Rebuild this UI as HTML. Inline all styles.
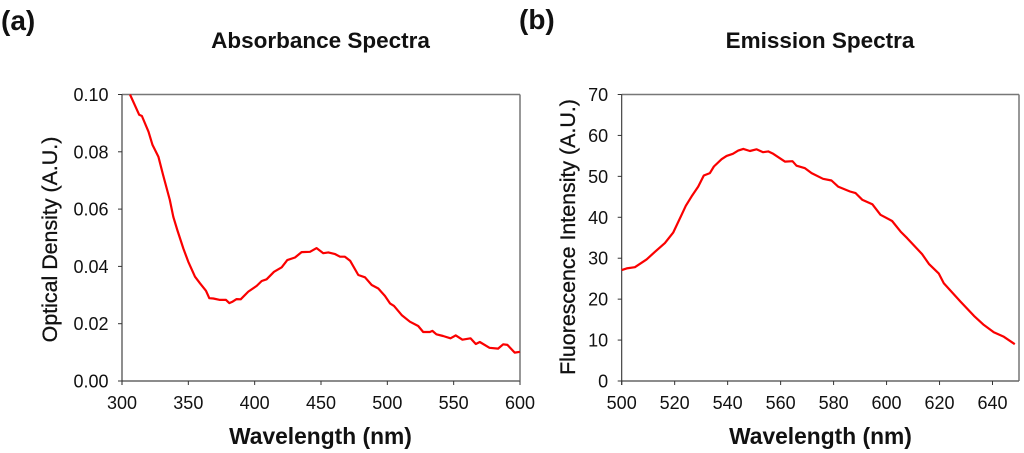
<!DOCTYPE html>
<html>
<head>
<meta charset="utf-8">
<style>
html,body{margin:0;padding:0;background:#fff;}
svg{display:block;font-family:"Liberation Sans",Arial,sans-serif;filter:blur(0.35px);}
text{fill:#111;}
.tick{font-size:18px;}
.axt{font-size:22.8px;font-weight:bold;}
.ayt{font-size:21.4px;}
.tt{font-size:22.5px;font-weight:bold;}
.pl{font-size:28px;font-weight:bold;}
</style>
</head>
<body>
<svg id="fig" width="1024" height="453" viewBox="0 0 1024 453" xmlns="http://www.w3.org/2000/svg">
  <text class="pl" x="1" y="30">(a)</text>
  <text class="pl" x="519" y="29">(b)</text>
  <text class="tt" x="320.5" y="48" text-anchor="middle">Absorbance Spectra</text>
  <text class="tt" x="820" y="48" text-anchor="middle">Emission Spectra</text>
  <text class="axt" x="320.5" y="444" text-anchor="middle">Wavelength (nm)</text>
  <text class="axt" x="820.5" y="444" text-anchor="middle">Wavelength (nm)</text>
  <text class="ayt" transform="translate(57 239.5) rotate(-90)" text-anchor="middle" style="stroke:#111;stroke-width:.3px">Optical Density (A.U.)</text>
  <text class="ayt" transform="translate(575 237) rotate(-90)" text-anchor="middle" style="stroke:#111;stroke-width:.3px">Fluorescence Intensity (A.U.)</text>
</svg>
<script>
var absWavelengths = [306,313,315,320,323,327.4,331,336,338.7,341.7,346.2,350,355,358.8,363.3,365.8,368.8,373.9,378.4,380.9,383,386.4,389.5,395.2,401.5,405.3,409,414.6,420.4,424.6,430.4,435.4,441.7,446.7,451.7,455.5,460.6,464.3,468,471.9,478.1,483.2,488.2,493.2,498.2,502,505,510.8,517,523.3,527,532,534,537,542,547.6,551.6,556.6,562.7,566.7,569.7,577,583.5,587.3,590.5,596,600];
var absValues = [0.1,0.0929,0.0925,0.087,0.0824,0.0783,0.0719,0.0632,0.0573,0.0527,0.0463,0.0416,0.0364,0.0341,0.0315,0.0289,0.0288,0.0283,0.0283,0.0272,0.0276,0.0286,0.0285,0.0312,0.0332,0.0349,0.0355,0.0381,0.0397,0.0422,0.0431,0.045,0.0451,0.0464,0.0446,0.0449,0.0443,0.0434,0.0434,0.042,0.037,0.0362,0.0335,0.0323,0.0297,0.0271,0.0262,0.023,0.0207,0.0192,0.0171,0.0171,0.0175,0.0163,0.0157,0.0149,0.0159,0.0144,0.0149,0.0129,0.0136,0.0116,0.0113,0.0128,0.0126,0.0099,0.0102];
var absXTicks = [300,350,400,450,500,550,600];
var absYTicks = ["0.00","0.02","0.04","0.06","0.08","0.10"];

var emWavelengths = [500,501.9,505,509.4,512.6,516.3,519.5,522.6,524.2,526.4,528.9,531,533.3,534.8,537.7,539.6,542,544,545.9,548.4,550.9,553.4,555.3,557.2,561.6,564.5,566,569.2,571.7,576,579.2,581.7,586.2,588.3,590.8,594.6,597.7,602.1,605.3,607.8,613.4,616,619.7,621.6,627.9,633,636.7,640.5,644.3,648.4];
var emValues = [27.1,27.5,27.8,29.7,31.6,33.7,36.3,40.6,42.8,45.1,47.5,50.2,50.8,52.4,54.2,55,55.5,56.3,56.7,56.2,56.6,55.9,56.1,55.5,53.6,53.7,52.6,52,50.8,49.4,49,47.5,46.3,45.9,44.3,43.2,40.6,39.1,36.5,34.9,31,28.6,26.3,23.9,19.4,15.9,13.7,11.9,10.8,9];
var emXTicks = [500,520,540,560,580,600,620,640];
var emYTicks = ["0","10","20","30","40","50","60","70"];

var NS = "http://www.w3.org/2000/svg";
var fig = document.getElementById("fig");

function shape(tag, attrs, parent) {
  var el = document.createElementNS(NS, tag);
  for (var k in attrs) { el.setAttribute(k, attrs[k]); }
  (parent || fig).appendChild(el);
  return el;
}

function drawChart(c) {
  var sx = function (v) { return c.left + (v - c.xMin) / (c.xMax - c.xMin) * (c.right - c.left); };
  var sy = function (v) { return c.bottom - (v - c.yMin) / (c.yMax - c.yMin) * (c.bottom - c.top); };

  var g = shape("g", {});
  
  

  var topLine = shape("line", {x1: c.left, y1: c.top, x2: c.right, y2: c.top, stroke: "#777", "stroke-width": 1.5}, g);
  
  
  var rightLine = shape("line", {x1: c.right, y1: c.top, x2: c.right, y2: c.bottom, stroke: "#777", "stroke-width": 1.5}, g);
  
  
  var xAxis = shape("line", {x1: c.left, y1: c.bottom, x2: c.right, y2: c.bottom, stroke: "#666", "stroke-width": 1.5}, g);
  
  
  var yAxis = shape("line", {x1: c.left, y1: c.top, x2: c.left, y2: c.bottom + 4, stroke: "#333", "stroke-width": 1.1}, g);
  
  

  c.xTicks.forEach(function (t) {
    var m = shape("line", {x1: sx(t), y1: c.bottom, x2: sx(t), y2: c.bottom + 4, stroke: "#333", "stroke-width": 1}, g);
    
    
    var l = shape("text", {x: sx(t), y: c.bottom + 28, "text-anchor": "middle", "class": "tick"}, g);
    l.textContent = t;
    
    
  });

  c.yTicks.forEach(function (t) {
    var v = parseFloat(t);
    var m = shape("line", {x1: c.left - 4, y1: sy(v), x2: c.left, y2: sy(v), stroke: "#333", "stroke-width": 1}, g);
    
    
    var l = shape("text", {x: c.left - 13.5, y: sy(v) + 6.5, "text-anchor": "end", "class": "tick"}, g);
    l.textContent = t;
    
    
  });

  var pts = c.xs.map(function (x, i) { return sx(x).toFixed(1) + "," + sy(c.ys[i]).toFixed(1); }).join(" ");
  var line = shape("polyline", {points: pts, fill: "none", stroke: "#fa0000", "stroke-width": 2.2, "stroke-linejoin": "round"}, g);
  
  
}

drawChart({name: "absorbance", left: 122, right: 520, top: 94.5, bottom: 381, xMin: 300, xMax: 600, yMin: 0, yMax: 0.1, xTicks: absXTicks, yTicks: absYTicks, xs: absWavelengths, ys: absValues});
drawChart({name: "emission", left: 621.7, right: 1019, top: 94.5, bottom: 381, xMin: 500, xMax: 650, yMin: 0, yMax: 70, xTicks: emXTicks, yTicks: emYTicks, xs: emWavelengths, ys: emValues});
</script>
</body>
</html>
